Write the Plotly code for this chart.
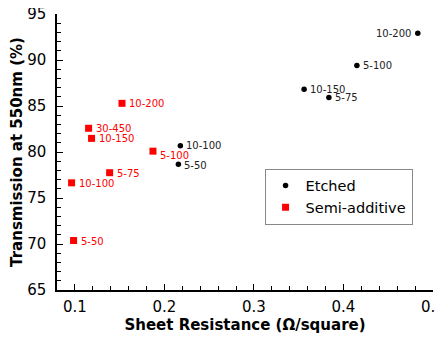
import plotly.graph_objects as go

etched_x = [0.483, 0.415, 0.356, 0.3837, 0.2178, 0.2156]
etched_y = [92.91, 89.40, 86.83, 85.92, 80.68, 78.66]
etched_lbl = ["10-200", "5-100", "10-150", "5-75", "10-100", "5-50"]

semi_x = [0.1526, 0.1153, 0.1186, 0.1872, 0.1388, 0.0963, 0.0985]
semi_y = [85.29, 82.58, 81.48, 80.09, 77.75, 76.65, 70.38]
semi_lbl = ["10-200", "30-450", "10-150", "5-100", "5-75", "10-100", "5-50"]

x_ticks = [0.1, 0.2, 0.3, 0.4, 0.5]
y_ticks = [65, 70, 75, 80, 85, 90, 95]

font = "DejaVu Sans"

fig = go.Figure()
fig.add_trace(go.Scatter(
    x=etched_x, y=etched_y, mode="markers", name="Etched",
    marker=dict(symbol="circle", size=5.5, color="black"),
))
fig.add_trace(go.Scatter(
    x=semi_x, y=semi_y, mode="markers", name="Semi-additive",
    marker=dict(symbol="square", size=7, color="#ff0000"),
))

# point labels (label placement offsets in pixels)
for i, (x, y, t) in enumerate(zip(etched_x, etched_y, etched_lbl)):
    left = (i == 0)
    fig.add_annotation(
        x=x, y=y, text=t, showarrow=False,
        xanchor="right" if left else "left", yanchor="middle",
        xshift=-5 if left else 4, yshift=-1 if t == "5-50" else 0,
        font=dict(family=font, size=10, color="#222222"),
    )
for x, y, t in zip(semi_x, semi_y, semi_lbl):
    ys = -4 if t == "5-100" else (0 if t in ("10-200", "30-450", "10-150") else -1)
    fig.add_annotation(
        x=x, y=y, text=t, showarrow=False,
        xanchor="left", yanchor="middle", xshift=5, yshift=ys,
        font=dict(family=font, size=10, color="#ff0000"),
    )

axis_common = dict(
    showline=True, linecolor="black", linewidth=1.5, mirror=False,
    showgrid=False, zeroline=False, ticks="inside", ticklen=6, tickwidth=1.2,
    tickcolor="black", tickfont=dict(family=font, size=15, color="black"),
    automargin=False, ticklabeloverflow="allow",
)
fig.update_xaxes(
    range=[0.08, 0.5], tickvals=x_ticks,
    ticktext=[f"{v:.1f}" for v in x_ticks], ticklabelstandoff=2,
    minor=dict(dtick=0.02, tick0=0.0, ticks="inside", ticklen=4, tickcolor="black", tickwidth=1.2),
    title=dict(text="<b>Sheet Resistance (Ω/square)</b>", font=dict(family=font, size=15, color="black"), standoff=5),
    **axis_common,
)
fig.update_yaxes(
    range=[65, 95], tickvals=y_ticks, ticklabelstandoff=6,
    minor=dict(dtick=1, ticks="inside", ticklen=4, tickcolor="black", tickwidth=1.2),
    title=dict(text="<b>Transmission at 550nm (%)</b>", font=dict(family=font, size=15, color="black"), standoff=2),
    **axis_common,
)
fig.update_layout(
    width=435, height=331,
    margin=dict(l=49, r=10, t=6, b=49),
    plot_bgcolor="white", paper_bgcolor="white",
    legend=dict(x=0.552, y=0.44, xanchor="left", yanchor="top",
                bordercolor="#888888", borderwidth=1, bgcolor="white",
                font=dict(family=font, size=14.5, color="black"),
                itemwidth=30, tracegroupgap=0),
)
fig.write_html("out.html")
